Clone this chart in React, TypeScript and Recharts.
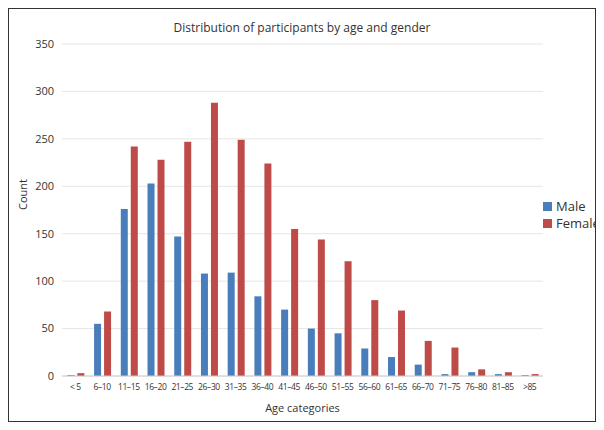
import React from "react";
import { BarChart, Bar, XAxis, YAxis, CartesianGrid, Legend } from "recharts";

// --- DATA ---
const AGE_GROUPS = ["< 5", "6–10", "11–15", "16–20", "21–25", "26–30", "31–35", "36–40", "41–45", "46–50", "51–55", "56–60", "61–65", "66–70", "71–75", "76–80", "81–85", ">85"];
const MALE = [1, 55, 176, 203, 147, 108, 109, 84, 70, 50, 45, 29, 20, 12, 2, 4, 2, 1];
const FEMALE = [3, 68, 242, 228, 247, 288, 249, 224, 155, 144, 121, 80, 69, 37, 30, 7, 4, 2];
const Y_TICKS = [0, 50, 100, 150, 200, 250, 300, 350];
const SERIES = [
    { key: "Male", color: "#4a7ebb" },
    { key: "Female", color: "#be4b48" },
];

const data = AGE_GROUPS.map((age, i) => ({ age, Male: MALE[i], Female: FEMALE[i] }));

const FONT = "'Open Sans', 'Liberation Sans', sans-serif";

const LegendBox = () => (
    <div style={{ fontSize: 13, color: "#333" }}>
        {SERIES.map((s) => (
            <div key={s.key} style={{ display: "flex", alignItems: "center", lineHeight: "17px" }}>
                <span style={{ width: 9, height: 9, background: s.color, marginRight: 4 }} />
                {s.key}
            </div>
        ))}
    </div>
);

export default function App() {
    return (
        <div style={{ position: "relative", width: 586, height: 412, border: "1px solid #333", fontFamily: FONT, background: "#fff" }}>
            <div style={{ position: "absolute", top: 10, width: "100%", textAlign: "center", fontSize: 12, color: "#333" }}>
                Distribution of participants by age and gender
            </div>
            <BarChart
                width={586}
                height={412}
                data={data}
                margin={{ top: 35, right: -6, bottom: 25, left: 10 }}
                barCategoryGap="20%"
                barGap={3}
            >
                <CartesianGrid vertical={false} stroke="#e6e6e6" />
                <XAxis
                    dataKey="age"
                    interval={0}
                    tickLine={false}
                    axisLine={{ stroke: "#ccc" }}
                    tick={{ fontSize: 8.5, fill: "#333", letterSpacing: -0.4 }}
                    height={20}
                    label={{ value: "Age categories", position: "insideBottom", offset: -16, fontSize: 11, fill: "#333" }}
                />
                <YAxis
                    domain={[0, 350]}
                    ticks={Y_TICKS}
                    tickLine={false}
                    axisLine={false}
                    tick={{ fontSize: 11, fill: "#333" }}
                    width={43}
                    label={{ value: "Count", angle: -90, position: "insideLeft", offset: 4, fontSize: 11, fill: "#333" }}
                />
                <Legend layout="vertical" align="right" verticalAlign="middle" wrapperStyle={{ width: 58 }} content={LegendBox} />
                {SERIES.map((s) => (
                    <Bar key={s.key} dataKey={s.key} fill={s.color} isAnimationActive={false} />
                ))}
            </BarChart>
        </div>
    );
}
